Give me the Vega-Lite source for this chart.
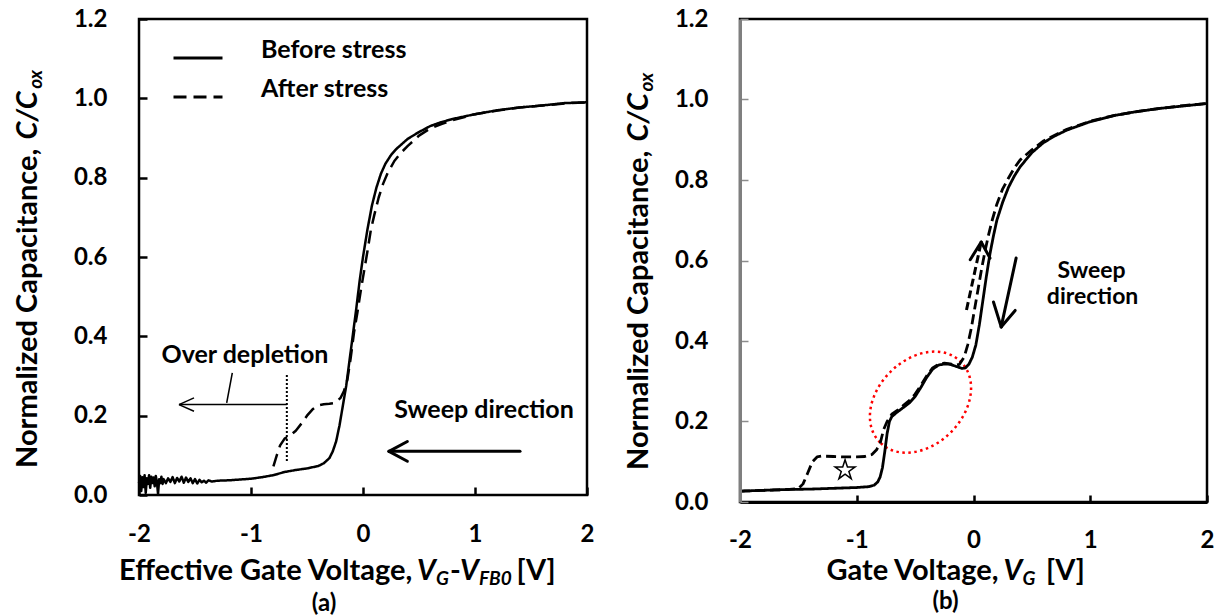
{
"$schema": "https://vega.github.io/schema/vega-lite/v6.json",
"background": "white",
"padding": {"left": 12, "top": 5, "right": 5, "bottom": 2},
"bounds": "flush",
"spacing": 153,
"config": {"font": "Lato", "view": {"stroke": null}},
"resolve": {"scale": {"strokeDash": "independent"}, "legend": {"strokeDash": "independent"}},
"datasets": {
"curvesA": [
{"series":"Before stress","v":-2.00,"c":0.030},{"series":"Before stress","v":-1.99,"c":0.048},{"series":"Before stress","v":-1.98,"c":0.010},{"series":"Before stress","v":-1.97,"c":0.045},{"series":"Before stress","v":-1.96,"c":0.020},{"series":"Before stress","v":-1.95,"c":0.050},{"series":"Before stress","v":-1.94,"c":0.005},{"series":"Before stress","v":-1.93,"c":0.042},{"series":"Before stress","v":-1.92,"c":0.028},{"series":"Before stress","v":-1.91,"c":0.050},{"series":"Before stress","v":-1.90,"c":0.018},{"series":"Before stress","v":-1.89,"c":0.046},{"series":"Before stress","v":-1.88,"c":0.030},{"series":"Before stress","v":-1.87,"c":0.044},{"series":"Before stress","v":-1.86,"c":0.022},{"series":"Before stress","v":-1.85,"c":0.048},{"series":"Before stress","v":-1.84,"c":0.032},{"series":"Before stress","v":-1.83,"c":0.003},{"series":"Before stress","v":-1.82,"c":0.040},{"series":"Before stress","v":-1.81,"c":0.030},{"series":"Before stress","v":-1.80,"c":0.046},{"series":"Before stress","v":-1.79,"c":0.028},{"series":"Before stress","v":-1.78,"c":0.040},{"series":"Before stress","v":-1.76,"c":0.030},{"series":"Before stress","v":-1.74,"c":0.042},{"series":"Before stress","v":-1.72,"c":0.033},{"series":"Before stress","v":-1.70,"c":0.045},{"series":"Before stress","v":-1.68,"c":0.030},{"series":"Before stress","v":-1.66,"c":0.043},{"series":"Before stress","v":-1.64,"c":0.034},{"series":"Before stress","v":-1.62,"c":0.046},{"series":"Before stress","v":-1.60,"c":0.031},{"series":"Before stress","v":-1.58,"c":0.044},{"series":"Before stress","v":-1.56,"c":0.033},{"series":"Before stress","v":-1.54,"c":0.042},{"series":"Before stress","v":-1.52,"c":0.030},{"series":"Before stress","v":-1.50,"c":0.040},{"series":"Before stress","v":-1.48,"c":0.029},{"series":"Before stress","v":-1.46,"c":0.038},{"series":"Before stress","v":-1.44,"c":0.032},{"series":"Before stress","v":-1.42,"c":0.036},{"series":"Before stress","v":-1.40,"c":0.031},{"series":"Before stress","v":-1.38,"c":0.037},{"series":"Before stress","v":-1.35,"c":0.034},{"series":"Before stress","v":-1.30,"c":0.036},{"series":"Before stress","v":-1.20,"c":0.037},{"series":"Before stress","v":-1.10,"c":0.039},{"series":"Before stress","v":-1.00,"c":0.041},{"series":"Before stress","v":-0.90,"c":0.045},{"series":"Before stress","v":-0.80,"c":0.050},{"series":"Before stress","v":-0.70,"c":0.058},{"series":"Before stress","v":-0.60,"c":0.063},{"series":"Before stress","v":-0.50,"c":0.067},{"series":"Before stress","v":-0.40,"c":0.073},{"series":"Before stress","v":-0.35,"c":0.080},{"series":"Before stress","v":-0.30,"c":0.093},{"series":"Before stress","v":-0.27,"c":0.110},{"series":"Before stress","v":-0.24,"c":0.135},{"series":"Before stress","v":-0.21,"c":0.175},{"series":"Before stress","v":-0.18,"c":0.225},{"series":"Before stress","v":-0.15,"c":0.275},{"series":"Before stress","v":-0.12,"c":0.340},{"series":"Before stress","v":-0.09,"c":0.405},{"series":"Before stress","v":-0.06,"c":0.470},{"series":"Before stress","v":-0.03,"c":0.540},{"series":"Before stress","v":0.00,"c":0.600},{"series":"Before stress","v":0.04,"c":0.670},{"series":"Before stress","v":0.08,"c":0.730},{"series":"Before stress","v":0.12,"c":0.775},{"series":"Before stress","v":0.16,"c":0.810},{"series":"Before stress","v":0.20,"c":0.835},{"series":"Before stress","v":0.25,"c":0.857},{"series":"Before stress","v":0.30,"c":0.873},{"series":"Before stress","v":0.40,"c":0.898},{"series":"Before stress","v":0.50,"c":0.915},{"series":"Before stress","v":0.60,"c":0.930},{"series":"Before stress","v":0.70,"c":0.940},{"series":"Before stress","v":0.80,"c":0.948},{"series":"Before stress","v":1.00,"c":0.960},{"series":"Before stress","v":1.20,"c":0.970},{"series":"Before stress","v":1.40,"c":0.977},{"series":"Before stress","v":1.60,"c":0.982},{"series":"Before stress","v":1.80,"c":0.988},{"series":"Before stress","v":2.00,"c":0.990},
{"series":"After stress","v":-0.80,"c":0.072},{"series":"After stress","v":-0.77,"c":0.100},{"series":"After stress","v":-0.74,"c":0.125},{"series":"After stress","v":-0.70,"c":0.142},{"series":"After stress","v":-0.65,"c":0.150},{"series":"After stress","v":-0.60,"c":0.162},{"series":"After stress","v":-0.55,"c":0.180},{"series":"After stress","v":-0.50,"c":0.200},{"series":"After stress","v":-0.45,"c":0.216},{"series":"After stress","v":-0.40,"c":0.226},{"series":"After stress","v":-0.35,"c":0.229},{"series":"After stress","v":-0.30,"c":0.230},{"series":"After stress","v":-0.25,"c":0.232},{"series":"After stress","v":-0.20,"c":0.245},{"series":"After stress","v":-0.17,"c":0.262},{"series":"After stress","v":-0.14,"c":0.290},{"series":"After stress","v":-0.11,"c":0.345},{"series":"After stress","v":-0.08,"c":0.410},{"series":"After stress","v":-0.05,"c":0.460},{"series":"After stress","v":-0.02,"c":0.515},{"series":"After stress","v":0.01,"c":0.565},{"series":"After stress","v":0.04,"c":0.615},{"series":"After stress","v":0.07,"c":0.668},{"series":"After stress","v":0.10,"c":0.705},{"series":"After stress","v":0.14,"c":0.750},{"series":"After stress","v":0.18,"c":0.785},{"series":"After stress","v":0.22,"c":0.812},{"series":"After stress","v":0.28,"c":0.842},{"series":"After stress","v":0.34,"c":0.863},{"series":"After stress","v":0.40,"c":0.880},{"series":"After stress","v":0.50,"c":0.906},{"series":"After stress","v":0.60,"c":0.924},{"series":"After stress","v":0.70,"c":0.935},{"series":"After stress","v":0.80,"c":0.945},{"series":"After stress","v":1.00,"c":0.960},{"series":"After stress","v":1.20,"c":0.969},{"series":"After stress","v":1.40,"c":0.977},{"series":"After stress","v":1.60,"c":0.982},{"series":"After stress","v":1.80,"c":0.987},{"series":"After stress","v":2.00,"c":0.990}
],
"curvesB": [
{"series":"Sweep down","v":-2.0,"c":0.027},{"series":"Sweep down","v":-1.8,"c":0.029},{"series":"Sweep down","v":-1.6,"c":0.031},{"series":"Sweep down","v":-1.4,"c":0.032},{"series":"Sweep down","v":-1.2,"c":0.034},{"series":"Sweep down","v":-1.0,"c":0.036},{"series":"Sweep down","v":-0.9,"c":0.038},{"series":"Sweep down","v":-0.85,"c":0.042},{"series":"Sweep down","v":-0.82,"c":0.050},{"series":"Sweep down","v":-0.8,"c":0.062},{"series":"Sweep down","v":-0.78,"c":0.085},{"series":"Sweep down","v":-0.76,"c":0.125},{"series":"Sweep down","v":-0.74,"c":0.170},{"series":"Sweep down","v":-0.72,"c":0.200},{"series":"Sweep down","v":-0.7,"c":0.212},{"series":"Sweep down","v":-0.66,"c":0.222},{"series":"Sweep down","v":-0.6,"c":0.235},{"series":"Sweep down","v":-0.55,"c":0.246},{"series":"Sweep down","v":-0.5,"c":0.262},{"series":"Sweep down","v":-0.45,"c":0.285},{"series":"Sweep down","v":-0.4,"c":0.310},{"series":"Sweep down","v":-0.35,"c":0.330},{"series":"Sweep down","v":-0.3,"c":0.340},{"series":"Sweep down","v":-0.25,"c":0.343},{"series":"Sweep down","v":-0.2,"c":0.342},{"series":"Sweep down","v":-0.15,"c":0.337},{"series":"Sweep down","v":-0.1,"c":0.332},{"series":"Sweep down","v":-0.07,"c":0.333},{"series":"Sweep down","v":-0.04,"c":0.342},{"series":"Sweep down","v":-0.01,"c":0.360},{"series":"Sweep down","v":0.02,"c":0.390},{"series":"Sweep down","v":0.05,"c":0.440},{"series":"Sweep down","v":0.08,"c":0.500},{"series":"Sweep down","v":0.11,"c":0.560},{"series":"Sweep down","v":0.14,"c":0.615},{"series":"Sweep down","v":0.17,"c":0.660},{"series":"Sweep down","v":0.2,"c":0.700},{"series":"Sweep down","v":0.25,"c":0.745},{"series":"Sweep down","v":0.3,"c":0.782},{"series":"Sweep down","v":0.35,"c":0.810},{"series":"Sweep down","v":0.4,"c":0.833},{"series":"Sweep down","v":0.5,"c":0.868},{"series":"Sweep down","v":0.6,"c":0.893},{"series":"Sweep down","v":0.7,"c":0.910},{"series":"Sweep down","v":0.8,"c":0.924},{"series":"Sweep down","v":1.0,"c":0.945},{"series":"Sweep down","v":1.2,"c":0.960},{"series":"Sweep down","v":1.4,"c":0.970},{"series":"Sweep down","v":1.6,"c":0.978},{"series":"Sweep down","v":1.8,"c":0.984},{"series":"Sweep down","v":2.0,"c":0.990},
{"series":"Sweep up","v":-2.0,"c":0.027},{"series":"Sweep up","v":-1.8,"c":0.029},{"series":"Sweep up","v":-1.6,"c":0.031},{"series":"Sweep up","v":-1.5,"c":0.033},{"series":"Sweep up","v":-1.46,"c":0.045},{"series":"Sweep up","v":-1.42,"c":0.072},{"series":"Sweep up","v":-1.38,"c":0.100},{"series":"Sweep up","v":-1.34,"c":0.112},{"series":"Sweep up","v":-1.3,"c":0.114},{"series":"Sweep up","v":-1.2,"c":0.113},{"series":"Sweep up","v":-1.1,"c":0.112},{"series":"Sweep up","v":-1.0,"c":0.112},{"series":"Sweep up","v":-0.93,"c":0.113},{"series":"Sweep up","v":-0.87,"c":0.118},{"series":"Sweep up","v":-0.83,"c":0.130},{"series":"Sweep up","v":-0.8,"c":0.145},{"series":"Sweep up","v":-0.77,"c":0.180},{"series":"Sweep up","v":-0.74,"c":0.200},{"series":"Sweep up","v":-0.7,"c":0.218},{"series":"Sweep up","v":-0.65,"c":0.228},{"series":"Sweep up","v":-0.6,"c":0.240},{"series":"Sweep up","v":-0.55,"c":0.252},{"series":"Sweep up","v":-0.5,"c":0.268},{"series":"Sweep up","v":-0.45,"c":0.290},{"series":"Sweep up","v":-0.4,"c":0.314},{"series":"Sweep up","v":-0.35,"c":0.333},{"series":"Sweep up","v":-0.3,"c":0.342},{"series":"Sweep up","v":-0.25,"c":0.345},{"series":"Sweep up","v":-0.2,"c":0.343},{"series":"Sweep up","v":-0.15,"c":0.340},{"series":"Sweep up","v":-0.12,"c":0.342},{"series":"Sweep up","v":-0.08,"c":0.360},{"series":"Sweep up","v":-0.05,"c":0.390},{"series":"Sweep up","v":-0.02,"c":0.430},{"series":"Sweep up","v":0.01,"c":0.480},{"series":"Sweep up","v":0.04,"c":0.530},{"series":"Sweep up","v":0.07,"c":0.580},{"series":"Sweep up","v":0.1,"c":0.625},{"series":"Sweep up","v":0.13,"c":0.665},{"series":"Sweep up","v":0.16,"c":0.700},{"series":"Sweep up","v":0.2,"c":0.740},{"series":"Sweep up","v":0.25,"c":0.778},{"series":"Sweep up","v":0.3,"c":0.805},{"series":"Sweep up","v":0.35,"c":0.830},{"series":"Sweep up","v":0.4,"c":0.850},{"series":"Sweep up","v":0.5,"c":0.875},{"series":"Sweep up","v":0.6,"c":0.897},{"series":"Sweep up","v":0.7,"c":0.912},{"series":"Sweep up","v":0.8,"c":0.926},{"series":"Sweep up","v":1.0,"c":0.946},{"series":"Sweep up","v":1.2,"c":0.960},{"series":"Sweep up","v":1.4,"c":0.970},{"series":"Sweep up","v":1.6,"c":0.978},{"series":"Sweep up","v":1.8,"c":0.985},{"series":"Sweep up","v":2.0,"c":0.990}
],
"rulesA": [
{"k":"dot","v":-0.68,"c":0.086,"v2":-0.68,"c2":0.305},
{"k":"thin","v":-0.68,"c":0.228,"v2":-1.643,"c2":0.228},
{"k":"thin","v":-1.643,"c":0.228,"v2":-1.509,"c2":0.245},
{"k":"thin","v":-1.643,"c":0.228,"v2":-1.509,"c2":0.211},
{"k":"thin","v":-1.167,"c":0.308,"v2":-1.217,"c2":0.232},
{"k":"thick","v":1.402,"c":0.110,"v2":0.232,"c2":0.110},
{"k":"thick","v":0.232,"c":0.110,"v2":0.396,"c2":0.135},
{"k":"thick","v":0.232,"c":0.110,"v2":0.396,"c2":0.085}
],
"labelsA": [
{"k":"xt1","v":-2.1786,"c":-0.2144,"t":"Effective Gate Voltage,"},
{"k":"xt2","v":0.482,"c":-0.2144,"t":"V"},
{"k":"xt3","v":0.652,"c":-0.2144,"t":"G"},
{"k":"xt4","v":0.777,"c":-0.2144,"t":"-"},
{"k":"xt5","v":0.866,"c":-0.2144,"t":"V"},
{"k":"xt6","v":1.036,"c":-0.2144,"t":"FB0"},
{"k":"xt7","v":1.37,"c":-0.2144,"t":"[V]"},
{"k":"yt1","v":-2.9107,"c":0.0681,"t":"Normalized Capacitance,"},
{"k":"yt2","v":-2.9107,"c":0.896,"t":"C/C"},
{"k":"yt3","v":-2.9107,"c":1.024,"t":"ox"},
{"k":"cap","v":-0.348,"c":-0.2926,"t":"(a)"},
{"k":"ann","v":-1.054,"c":0.333,"t":"Over depletion"},
{"k":"ann","v":1.08,"c":0.194,"t":"Sweep direction"}
],
"rulesB": [
{"k":"solid","v":0.365,"c":0.606,"v2":0.237,"c2":0.435},
{"k":"solid","v":0.237,"c":0.435,"v2":0.171,"c2":0.497},
{"k":"solid","v":0.237,"c":0.435,"v2":0.357,"c2":0.476},
{"k":"dash","v":-0.06,"c":0.477,"v2":0.066,"c2":0.646},
{"k":"solid","v":0.066,"c":0.646,"v2":-0.028,"c2":0.602},
{"k":"solid","v":0.066,"c":0.646,"v2":0.141,"c2":0.606}
],
"symbolsB": [
{"k":"star","v":-1.10,"c":0.079},
{"k":"ellipse","v":-0.454,"c":0.248}
],
"labelsB": [
{"k":"xt1","v":-1.2596,"c":-0.1938,"t":"Gate Voltage,"},
{"k":"xt2","v":0.257,"c":-0.1938,"t":"V"},
{"k":"xt3","v":0.420,"c":-0.1938,"t":"G"},
{"k":"xt4","v":0.62,"c":-0.1938,"t":"[V]"},
{"k":"yt1","v":-2.785,"c":0.0795,"t":"Normalized Capacitance,"},
{"k":"yt2","v":-2.785,"c":0.8957,"t":"C/C"},
{"k":"yt3","v":-2.785,"c":1.02,"t":"ox"},
{"k":"cap","v":-0.24,"c":-0.266,"t":"(b)"},
{"k":"ann","v":1.011,"c":0.5565,"t":"Sweep"},
{"k":"ann","v":1.02,"c":0.492,"t":"direction"}
]
},
"hconcat": [
{
"width": 448, "height": 476,
"view": {"stroke": "black", "strokeWidth": 2.5},
"encoding": {
"x": {"field": "v", "type": "quantitative", "scale": {"domain": [-2, 2], "nice": false, "zero": false},
 "axis": {"title": null, "values": [-2,-1,0,1,2], "labelExpr": "'' + datum.value", "domain": false, "grid": false, "tickSize": -8, "tickWidth": 2.5, "tickColor": "black", "labelFont": "Lato", "labelFontSize": 24, "labelFontWeight": "bold", "labelColor": "black", "labelPadding": 35, "labelFlush": false, "labelOverlap": false}},
"y": {"field": "c", "type": "quantitative", "scale": {"domain": [0, 1.2], "nice": false, "zero": false},
 "axis": {"title": null, "values": [0,0.2,0.4,0.6,0.8,1,1.2], "labelExpr": "format(datum.value, '.1f')", "domain": false, "grid": false, "tickSize": -8, "tickWidth": 2.5, "tickColor": "black", "labelFont": "Lato", "labelFontSize": 24, "labelFontWeight": "bold", "labelColor": "black", "labelPadding": 40, "labelFlush": false, "labelOverlap": false}}
},
"layer": [
{"data": {"name": "curvesA"}, "mark": {"type": "line", "color": "black", "strokeWidth": 2.5, "strokeJoin": "round"},
 "encoding": {"strokeDash": {"field": "series", "type": "nominal", "scale": {"domain": ["Before stress", "After stress"], "range": [[1, 0], [13, 7]]},
  "legend": {"orient": "none", "legendX": 33, "legendY": 13, "title": null, "symbolType": "stroke", "symbolSize": 2401, "symbolStrokeWidth": 3, "symbolStrokeColor": "black", "labelFont": "Lato", "labelFontSize": 25, "labelFontWeight": "bold", "labelColor": "black", "labelBaseline": "alphabetic", "labelOffset": 37, "rowPadding": 7, "padding": 0}}}},
{"data": {"name": "rulesA"}, "transform": [{"filter": "datum.k == 'dot'"}], "mark": {"type": "rule", "color": "black", "strokeWidth": 2, "strokeDash": [2, 2]}, "encoding": {"x2": {"field": "v2"}, "y2": {"field": "c2"}}},
{"data": {"name": "rulesA"}, "transform": [{"filter": "datum.k == 'thin'"}], "mark": {"type": "rule", "color": "black", "strokeWidth": 1.5}, "encoding": {"x2": {"field": "v2"}, "y2": {"field": "c2"}}},
{"data": {"name": "rulesA"}, "transform": [{"filter": "datum.k == 'thick'"}], "mark": {"type": "rule", "color": "black", "strokeWidth": 3, "strokeCap": "round"}, "encoding": {"x2": {"field": "v2"}, "y2": {"field": "c2"}}},
{"data": {"name": "labelsA"}, "transform": [{"filter": "indexof(['xt1','xt4','xt7'], datum.k) >= 0"}], "mark": {"type": "text", "font": "Lato", "fontSize": 29, "fontWeight": "bold", "align": "left", "baseline": "alphabetic", "color": "black"}, "encoding": {"text": {"field": "t"}}},
{"data": {"name": "labelsA"}, "transform": [{"filter": "indexof(['xt2','xt5'], datum.k) >= 0"}], "mark": {"type": "text", "font": "Lato", "fontSize": 29, "fontWeight": "bold", "fontStyle": "italic", "align": "left", "baseline": "alphabetic", "color": "black"}, "encoding": {"text": {"field": "t"}}},
{"data": {"name": "labelsA"}, "transform": [{"filter": "indexof(['xt3','xt6'], datum.k) >= 0"}], "mark": {"type": "text", "font": "Lato", "fontSize": 19, "fontWeight": "bold", "fontStyle": "italic", "align": "left", "baseline": "alphabetic", "dy": 5, "color": "black"}, "encoding": {"text": {"field": "t"}}},
{"data": {"name": "labelsA"}, "transform": [{"filter": "datum.k == 'yt1'"}], "mark": {"type": "text", "font": "Lato", "fontSize": 29, "fontWeight": "bold", "angle": 270, "align": "left", "baseline": "alphabetic", "color": "black"}, "encoding": {"text": {"field": "t"}}},
{"data": {"name": "labelsA"}, "transform": [{"filter": "datum.k == 'yt2'"}], "mark": {"type": "text", "font": "Lato", "fontSize": 29, "fontWeight": "bold", "fontStyle": "italic", "angle": 270, "align": "left", "baseline": "alphabetic", "color": "black"}, "encoding": {"text": {"field": "t"}}},
{"data": {"name": "labelsA"}, "transform": [{"filter": "datum.k == 'yt3'"}], "mark": {"type": "text", "font": "Lato", "fontSize": 19, "fontWeight": "bold", "fontStyle": "italic", "angle": 270, "align": "left", "baseline": "alphabetic", "dy": 5, "color": "black"}, "encoding": {"text": {"field": "t"}}},
{"data": {"name": "labelsA"}, "transform": [{"filter": "datum.k == 'cap'"}], "mark": {"type": "text", "font": "Lato", "fontSize": 24, "fontWeight": "bold", "align": "center", "baseline": "alphabetic", "color": "black"}, "encoding": {"text": {"field": "t"}}},
{"data": {"name": "labelsA"}, "transform": [{"filter": "datum.k == 'ann'"}], "mark": {"type": "text", "font": "Lato", "fontSize": 25, "fontWeight": "bold", "align": "center", "baseline": "alphabetic", "color": "black"}, "encoding": {"text": {"field": "t"}}}
]
},
{
"width": 467, "height": 483,
"view": {"stroke": "black", "strokeWidth": 2.5},
"encoding": {
"x": {"field": "v", "type": "quantitative", "scale": {"domain": [-2, 2], "nice": false, "zero": false},
 "axis": {"title": null, "values": [-2,-1,0,1,2], "labelExpr": "'' + datum.value", "domain": true, "domainColor": "black", "domainWidth": 3, "grid": false, "tickSize": -7, "tickWidth": 2.5, "tickColor": "black", "labelFont": "Lato", "labelFontSize": 24, "labelFontWeight": "bold", "labelColor": "black", "labelPadding": 33, "labelFlush": false, "labelOverlap": false, "zindex": 1}},
"y": {"field": "c", "type": "quantitative", "scale": {"domain": [0, 1.2], "nice": false, "zero": false},
 "axis": {"title": null, "values": [0,0.2,0.4,0.6,0.8,1,1.2], "labelExpr": "format(datum.value, '.1f')", "domain": true, "domainColor": "#7f7f7f", "domainWidth": 3, "grid": false, "tickSize": -8, "tickWidth": 1.5, "tickColor": "#8c8c8c", "labelFont": "Lato", "labelFontSize": 24, "labelFontWeight": "bold", "labelColor": "black", "labelPadding": 40, "labelFlush": false, "labelOverlap": false, "zindex": 1}}
},
"layer": [
{"data": {"name": "symbolsB"}, "transform": [{"filter": "datum.k == 'ellipse'"}], "mark": {"type": "point", "shape": "M -0.707 0.707 A 1 0.737 -45 1 1 0.707 -0.707 A 1 0.737 -45 1 1 -0.707 0.707 Z", "size": 12996, "filled": false, "stroke": "#ff0000", "strokeWidth": 2.5, "strokeDash": [2.5, 3.5], "opacity": 1}},
{"data": {"name": "curvesB"}, "mark": {"type": "line", "color": "black", "strokeWidth": 2.8, "strokeJoin": "round"},
 "encoding": {"strokeDash": {"field": "series", "type": "nominal", "scale": {"domain": ["Sweep down", "Sweep up"], "range": [[1, 0], [10, 5]]}, "legend": null}}},
{"data": {"name": "rulesB"}, "transform": [{"filter": "datum.k == 'solid'"}], "mark": {"type": "rule", "color": "black", "strokeWidth": 3, "strokeCap": "round"}, "encoding": {"x2": {"field": "v2"}, "y2": {"field": "c2"}}},
{"data": {"name": "rulesB"}, "transform": [{"filter": "datum.k == 'dash'"}], "mark": {"type": "rule", "color": "black", "strokeWidth": 3, "strokeDash": [8, 4]}, "encoding": {"x2": {"field": "v2"}, "y2": {"field": "c2"}}},
{"data": {"name": "symbolsB"}, "transform": [{"filter": "datum.k == 'star'"}], "mark": {"type": "point", "shape": "M0,-1L0.2245,-0.309L0.951,-0.309L0.363,0.118L0.588,0.809L0,0.382L-0.588,0.809L-0.363,0.118L-0.951,-0.309L-0.2245,-0.309Z", "size": 441, "filled": false, "stroke": "black", "strokeWidth": 1.5, "opacity": 1}},
{"data": {"name": "labelsB"}, "transform": [{"filter": "indexof(['xt1','xt4'], datum.k) >= 0"}], "mark": {"type": "text", "font": "Lato", "fontSize": 29, "fontWeight": "bold", "align": "left", "baseline": "alphabetic", "color": "black"}, "encoding": {"text": {"field": "t"}}},
{"data": {"name": "labelsB"}, "transform": [{"filter": "datum.k == 'xt2'"}], "mark": {"type": "text", "font": "Lato", "fontSize": 29, "fontWeight": "bold", "fontStyle": "italic", "align": "left", "baseline": "alphabetic", "color": "black"}, "encoding": {"text": {"field": "t"}}},
{"data": {"name": "labelsB"}, "transform": [{"filter": "datum.k == 'xt3'"}], "mark": {"type": "text", "font": "Lato", "fontSize": 19, "fontWeight": "bold", "fontStyle": "italic", "align": "left", "baseline": "alphabetic", "dy": 5, "color": "black"}, "encoding": {"text": {"field": "t"}}},
{"data": {"name": "labelsB"}, "transform": [{"filter": "datum.k == 'yt1'"}], "mark": {"type": "text", "font": "Lato", "fontSize": 29, "fontWeight": "bold", "angle": 270, "align": "left", "baseline": "alphabetic", "color": "black"}, "encoding": {"text": {"field": "t"}}},
{"data": {"name": "labelsB"}, "transform": [{"filter": "datum.k == 'yt2'"}], "mark": {"type": "text", "font": "Lato", "fontSize": 29, "fontWeight": "bold", "fontStyle": "italic", "angle": 270, "align": "left", "baseline": "alphabetic", "color": "black"}, "encoding": {"text": {"field": "t"}}},
{"data": {"name": "labelsB"}, "transform": [{"filter": "datum.k == 'yt3'"}], "mark": {"type": "text", "font": "Lato", "fontSize": 19, "fontWeight": "bold", "fontStyle": "italic", "angle": 270, "align": "left", "baseline": "alphabetic", "dy": 5, "color": "black"}, "encoding": {"text": {"field": "t"}}},
{"data": {"name": "labelsB"}, "transform": [{"filter": "datum.k == 'cap'"}], "mark": {"type": "text", "font": "Lato", "fontSize": 24, "fontWeight": "bold", "align": "center", "baseline": "alphabetic", "color": "black"}, "encoding": {"text": {"field": "t"}}},
{"data": {"name": "labelsB"}, "transform": [{"filter": "datum.k == 'ann'"}], "mark": {"type": "text", "font": "Lato", "fontSize": 23, "fontWeight": "bold", "align": "center", "baseline": "alphabetic", "color": "black"}, "encoding": {"text": {"field": "t"}}}
]
}
]
}
